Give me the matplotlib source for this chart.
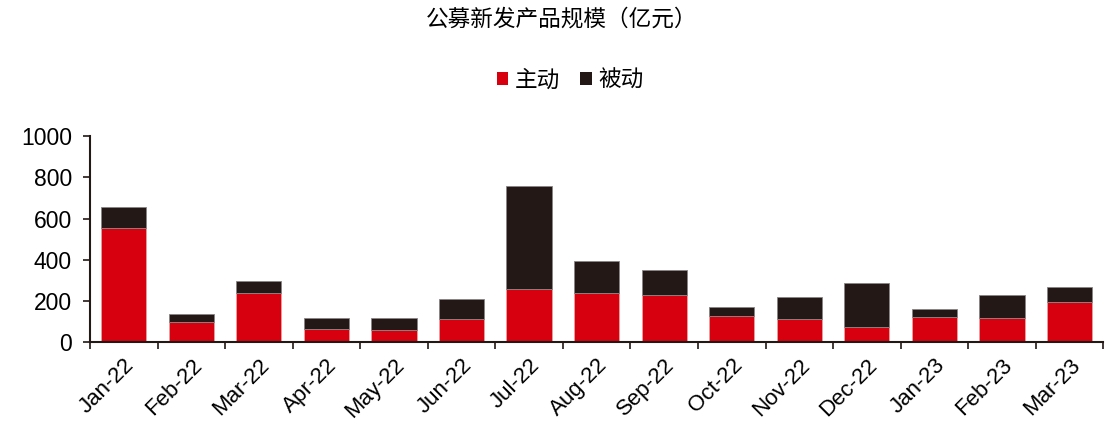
import matplotlib
matplotlib.use("Agg")
import matplotlib.pyplot as plt
import numpy as np
from matplotlib.patches import Patch

months = ["Jan-22", "Feb-22", "Mar-22", "Apr-22", "May-22", "Jun-22", "Jul-22", "Aug-22",
          "Sep-22", "Oct-22", "Nov-22", "Dec-22", "Jan-23", "Feb-23", "Mar-23"]
active = [555, 97, 240, 63, 57, 113, 259, 240, 231, 126, 112, 73, 121, 117, 194]
total = [655, 136, 299, 115, 115, 210, 757, 392, 351, 172, 220, 288, 162, 230, 267]
passive = [t - a for t, a in zip(total, active)]
yticks = [0, 200, 400, 600, 800, 1000]

RED = "#D7000F"
BLACK = "#231815"
CJK = ["Noto Sans CJK SC", "DejaVu Sans"]
NUM = ["Liberation Sans", "DejaVu Sans"]

fig = plt.figure(figsize=(11.16, 4.32), dpi=100)
ax = fig.add_axes([0.0806, 0.208, 0.908, 0.477])

x = np.arange(len(months))
w = 0.67
ax.bar(x, active, w, color=RED, edgecolor="#e8a0a0", linewidth=0.6)
ax.bar(x, passive, w, bottom=active, color=BLACK, edgecolor="#8a8585", linewidth=0.6)

ax.set_xlim(-0.5, len(months) - 0.5)
ax.set_ylim(0, 1000)
ax.set_yticks(yticks)
ax.set_yticklabels([str(v) for v in yticks], family=NUM, fontsize=16.5)
ax.set_xticks(x)
ax.set_xticklabels(months, family=NUM, fontsize=16, rotation=45, ha="right",
                   rotation_mode="anchor")
ax.set_xticks(np.arange(-0.5, len(months), 1), minor=True)
ax.tick_params(axis="x", which="major", length=0, pad=9)
ax.tick_params(axis="x", which="minor", length=5, width=1.2, color="#231815")
ax.tick_params(axis="y", length=5, width=1.2, color="#231815", pad=8)

for s in ["top", "right"]:
    ax.spines[s].set_visible(False)
for s in ["left", "bottom"]:
    ax.spines[s].set_linewidth(1.5)
    ax.spines[s].set_color("#231815")

fig.text(0.503, 0.955, "公募新发产品规模（亿元）", family=CJK, fontsize=16.3,
         ha="center", va="center", color="#000000", weight="medium")

handles = [Patch(facecolor=RED, edgecolor="none"), Patch(facecolor=BLACK, edgecolor="none")]
leg = fig.legend(handles, ["主动", "被动"], loc="center", bbox_to_anchor=(0.511, 0.815),
                 ncol=2, frameon=False, prop={"family": CJK, "size": 16.3, "weight": "medium"},
                 handlelength=0.5, handleheight=0.5, handletextpad=0.3, columnspacing=0.9)

fig.savefig("out.png", dpi=100)
